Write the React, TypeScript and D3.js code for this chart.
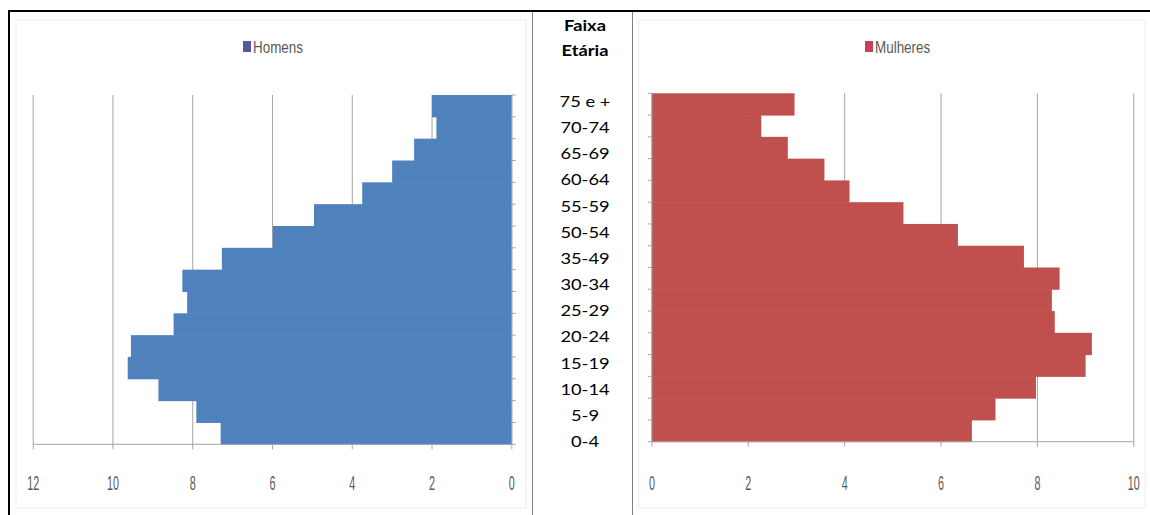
import React from 'react';
import * as d3 from 'd3';

// age groups, top to bottom as the bars are stacked
const ageGroups = [
  '75+', '70-74', '65-69', '60-64', '55-59', '50-54', '45-49', '40-44',
  '35-39', '30-34', '25-29', '20-24', '15-19', '10-14', '5-9', '0-4',
];
const homens = [2.0, 1.89, 2.45, 3.0, 3.75, 4.96, 5.99, 7.27, 8.26, 8.14, 8.48, 9.55, 9.63, 8.86, 7.91, 7.3];
const mulheres = [2.96, 2.27, 2.82, 3.58, 4.1, 5.22, 6.35, 7.72, 8.46, 8.3, 8.36, 9.13, 9.0, 7.97, 7.13, 6.64];

// labels written in the middle column (as in the original table)
const faixaLabels = [
  '75 e +', '70-74', '65-69', '60-64', '55-59', '50-54', '35-49',
  '30-34', '25-29', '20-24', '15-19', '10-14', '5-9', '0-4',
];
const homensTicks = [12, 10, 8, 6, 4, 2, 0];
const mulheresTicks = [0, 2, 4, 6, 8, 10];

const W = 1150;
const H = 515;
const BLUE = '#4f81bd';
const RED = '#c0504d';
const GRID = '#a6a6a6';
const AXIS_FONT = '"Liberation Sans", Arial, sans-serif';
const TEXT_FONT = 'Lato, "Open Sans", sans-serif';

// the original picture is squeezed sideways: tall, narrow digits
function TickLabel({ x, t }: { x: number; t: number }) {
  return (
    <text transform={`translate(${x},490) scale(0.72,1.4)`} textAnchor="middle"
      fontFamily={AXIS_FONT} fontSize={15} fill="#595959">{t}</text>
  );
}

function Legend({ x, label, color }: { x: number; label: string; color: string }) {
  return (
    <g>
      <rect x={x} y={41} width={8} height={11} fill={color} />
      <text transform={`translate(${x + 10},52.5) scale(0.84,1)`} fontFamily={AXIS_FONT} fontSize={16} fill="#595959">{label}</text>
    </g>
  );
}

// the middle column is stretched sideways in the original
function MidText({ y, text, bold }: { y: number; text: string; bold?: boolean }) {
  return (
    <text transform={`translate(585,${y}) scale(1.22,1)`} textAnchor="middle" fontFamily={TEXT_FONT}
      fontWeight={bold ? 700 : 400} fontSize={15} fill="#000">{text}</text>
  );
}

export default function App() {
  const xL = d3.scaleLinear().domain([0, 12]).range([511.8, 33.2]);
  const yL = d3.scaleBand().domain(ageGroups).range([95, 444.3]).padding(0);
  const xR = d3.scaleLinear().domain([0, 10]).range([651.9, 1133.8]);
  const yR = d3.scaleBand().domain(ageGroups).range([93.3, 441.7]).padding(0);
  const yLab = d3.scalePoint().domain(faixaLabels).range([107, 447]);

  const bandEdges = (y: d3.ScaleBand<string>) =>
    [...ageGroups.map(a => y(a)!), y.range()[1]];

  return (
    <svg width={W} height={H} style={{ display: 'block', position: 'absolute', left: 0, top: 0 }}>
      <rect x={0} y={0} width={W} height={H} fill="#fff" />

      {/* faint chart-area frames */}
      <rect x={16} y={20} width={510} height={488} fill="none" stroke="#ededed" />
      <rect x={639} y={20} width={506} height={488} fill="none" stroke="#ededed" />

      {/* ---------- Homens ---------- */}
      <g>
        {homensTicks.map(t => (
          <line key={t} x1={xL(t)} x2={xL(t)} y1={yL.range()[0]} y2={yL.range()[1]} stroke={GRID} strokeWidth={1} />
        ))}
        {ageGroups.map((a, i) => (
          <rect key={a} x={xL(homens[i])} y={yL(a)} width={xL(0) - xL(homens[i])} height={yL.bandwidth() + 0.5} fill={BLUE} />
        ))}
        <line x1={xL(12)} x2={xL(0)} y1={yL.range()[1]} y2={yL.range()[1]} stroke={GRID} />
        <line x1={xL(0)} x2={xL(0)} y1={yL.range()[0]} y2={yL.range()[1]} stroke={GRID} />
        {bandEdges(yL).map((v, i) => (
          <line key={i} x1={xL(0)} x2={xL(0) + 4} y1={v} y2={v} stroke={GRID} />
        ))}
        {homensTicks.map(t => (
          <g key={t}>
            <line x1={xL(t)} x2={xL(t)} y1={yL.range()[1]} y2={yL.range()[1] + 5} stroke={GRID} />
            <TickLabel x={xL(t)} t={t} />
          </g>
        ))}
        <Legend x={243} label="Homens" color="#56589c" />
      </g>

      {/* ---------- Mulheres ---------- */}
      <g>
        {mulheresTicks.map(t => (
          <line key={t} x1={xR(t)} x2={xR(t)} y1={yR.range()[0]} y2={yR.range()[1]} stroke={GRID} strokeWidth={1} />
        ))}
        {ageGroups.map((a, i) => (
          <rect key={a} x={xR(0)} y={yR(a)} width={xR(mulheres[i]) - xR(0)} height={yR.bandwidth() + 0.5} fill={RED} />
        ))}
        <line x1={xR(0)} x2={xR(10)} y1={yR.range()[1]} y2={yR.range()[1]} stroke={GRID} />
        <line x1={xR(0)} x2={xR(0)} y1={yR.range()[0]} y2={yR.range()[1]} stroke={GRID} />
        {bandEdges(yR).map((v, i) => (
          <line key={i} x1={xR(0) - 4} x2={xR(0)} y1={v} y2={v} stroke={GRID} />
        ))}
        {mulheresTicks.map(t => (
          <g key={t}>
            <line x1={xR(t)} x2={xR(t)} y1={yR.range()[1]} y2={yR.range()[1] + 5} stroke={GRID} />
            <TickLabel x={xR(t)} t={t} />
          </g>
        ))}
        <Legend x={865} label="Mulheres" color="#c8405a" />
      </g>

      {/* ---------- middle column ---------- */}
      <MidText y={30.7} text="Faixa" bold />
      <MidText y={56} text="Etária" bold />
      {faixaLabels.map(l => (
        <MidText key={l} y={yLab(l)!} text={l} />
      ))}

      {/* table borders */}
      <line x1={532.5} x2={532.5} y1={11} y2={H} stroke="#808080" />
      <line x1={632.5} x2={632.5} y1={11} y2={H} stroke="#808080" />
      <line x1={8} x2={W} y1={11} y2={11} stroke="#000" strokeWidth={2} />
      <line x1={9} x2={9} y1={10} y2={H} stroke="#000" strokeWidth={2} />
    </svg>
  );
}
